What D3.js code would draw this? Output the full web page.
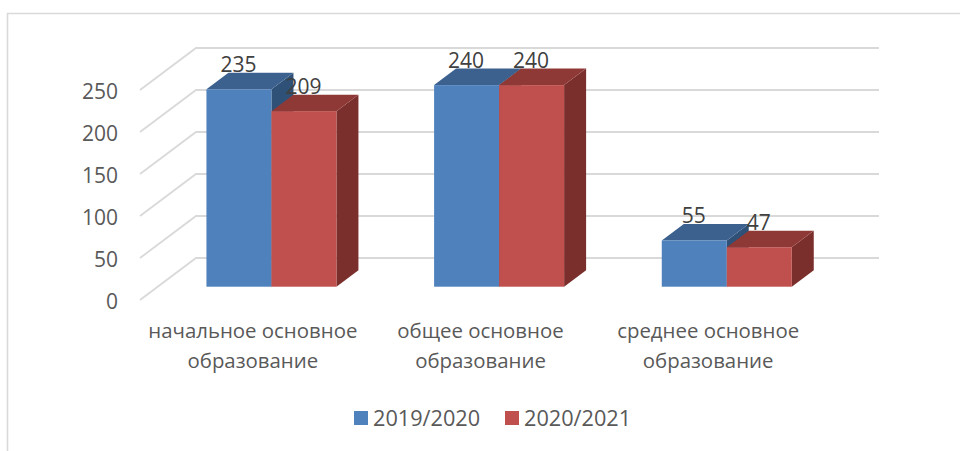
<!DOCTYPE html>
<html>
<head>
<meta charset="utf-8">
<script src="https://d3js.org/d3.v7.min.js"></script>
<style>
  html, body { margin: 0; padding: 0; background: #fff; }
  svg { display: block; }
  text { font-family: "Open Sans", sans-serif; }
  .domain { display: none; }
</style>
</head>
<body>
<svg width="960" height="451"></svg>
<script>
const categories = [
  ['начальное основное', 'образование'],
  ['общее основное', 'образование'],
  ['среднее основное', 'образование']
];
const seriesNames = ['2019/2020', '2020/2021'];
const values2019 = [235, 240, 55];
const values2020 = [209, 240, 47];
const yTicks = [0, 50, 100, 150, 200, 250];

const colors = [
  {front: '#4f81bd', top: '#3c618f', side: '#2f5178'},
  {front: '#c0504d', top: '#8f3936', side: '#7b2f2d'}
];

const svg = d3.select('svg');

// Frame of the chart area, only top and left show in the picture
svg.append('path')
  .attr('d', 'M7.5,451V13.5H960')
  .attr('fill', 'none')
  .attr('stroke', '#d9d9d9')
  .attr('stroke-width', 1.6);

// Front plane of the 3D box and the shift to its back wall
const wall = {dx: 56, dy: -42};
const depth = {dx: 22, dy: -16.5};   // depth of one bar
const gap = {dx: 17.6, dy: -13.3};   // floor in front of the bars

const x = d3.scaleBand().domain(d3.range(categories.length)).range([140, 823]);
const y = d3.scaleLinear().domain([0, 250]).range([300, 90]);
const x1 = d3.scaleBand().domain(d3.range(seriesNames.length)).range([0, 130]);
const barLeft = i => x(i) + (x.bandwidth() - x1.range()[1]) / 2 + gap.dx;

// Grid: slanted part on the side wall, straight part on the back wall
const grid = svg.append('g')
  .attr('fill', 'none')
  .attr('stroke', '#d9d9d9')
  .attr('stroke-width', 1.8);

grid.selectAll('path')
  .data(yTicks).enter()
  .append('path')
  .attr('d', d => `M${x.range()[0]},${y(d)}l${wall.dx},${wall.dy}H${x.range()[1] + wall.dx}`);

// Value axis
svg.append('g')
  .attr('transform', 'translate(118,0)')
  .call(d3.axisLeft(y).tickValues(yTicks).tickSize(0).tickPadding(0))
  .call(g => g.selectAll('text')
    .attr('font-size', 21)
    .attr('dy', '0.42em')
    .attr('fill', '#595959')
    .style('font-family', '"Open Sans", sans-serif'));

// Bars
const bars = [];
seriesNames.forEach((name, s) => {
  const vals = s === 0 ? values2019 : values2020;
  vals.forEach((v, i) => bars.push({s, i, v}));
});

const barW = x1.bandwidth();
const barBase = y(0) + gap.dy;
const barTop = d => y(d.v) + gap.dy;
const barX = d => barLeft(d.i) + x1(d.s);

const bar = svg.append('g').selectAll('g')
  .data(bars).enter()
  .append('g');

bar.append('path')
  .attr('fill', d => colors[d.s].side)
  .attr('d', d => `M${barX(d) + barW},${barTop(d)}l${depth.dx},${depth.dy}V${barBase + depth.dy}l${-depth.dx},${-depth.dy}Z`);

bar.append('path')
  .attr('fill', d => colors[d.s].top)
  .attr('d', d => `M${barX(d)},${barTop(d)}l${depth.dx},${depth.dy}h${barW}l${-depth.dx},${-depth.dy}Z`);

bar.append('rect')
  .attr('x', barX)
  .attr('y', barTop)
  .attr('width', barW)
  .attr('height', d => barBase - barTop(d))
  .attr('fill', d => colors[d.s].front);

// Data labels
svg.append('g').selectAll('text')
  .data(bars).enter()
  .append('text')
  .attr('x', d => barX(d) + barW / 2 - 0.5)
  .attr('y', d => barTop(d) - 24.5)
  .attr('dy', '0.35em')
  .attr('text-anchor', 'middle')
  .attr('font-size', 21)
  .attr('fill', '#404040')
  .text(d => d.v);

// Category labels
const catLabel = svg.append('g').selectAll('text')
  .data(categories).enter()
  .append('text')
  .attr('text-anchor', 'middle')
  .attr('font-size', 20.4)
  .attr('fill', '#595959');

catLabel.selectAll('tspan')
  .data((d, i) => d.map((line, l) => ({line, l, i}))).enter()
  .append('tspan')
  .attr('x', d => x(d.i) + x.bandwidth() / 2 - 1)
  .attr('y', d => 331 + d.l * 30)
  .attr('dy', '0.35em')
  .text(d => d.line);

// Legend
const legendX = d3.scalePoint().domain(seriesNames).range([354, 505]);
const legend = svg.append('g').selectAll('g')
  .data(seriesNames).enter()
  .append('g')
  .attr('transform', d => `translate(${legendX(d)},411)`);

legend.append('rect')
  .attr('width', 14)
  .attr('height', 14)
  .attr('fill', (d, i) => colors[i].front);

legend.append('text')
  .attr('x', 19)
  .attr('y', 7)
  .attr('dy', '0.35em')
  .attr('font-size', 21.7)
  .attr('fill', '#595959')
  .text(d => d);
</script>
</body>
</html>
